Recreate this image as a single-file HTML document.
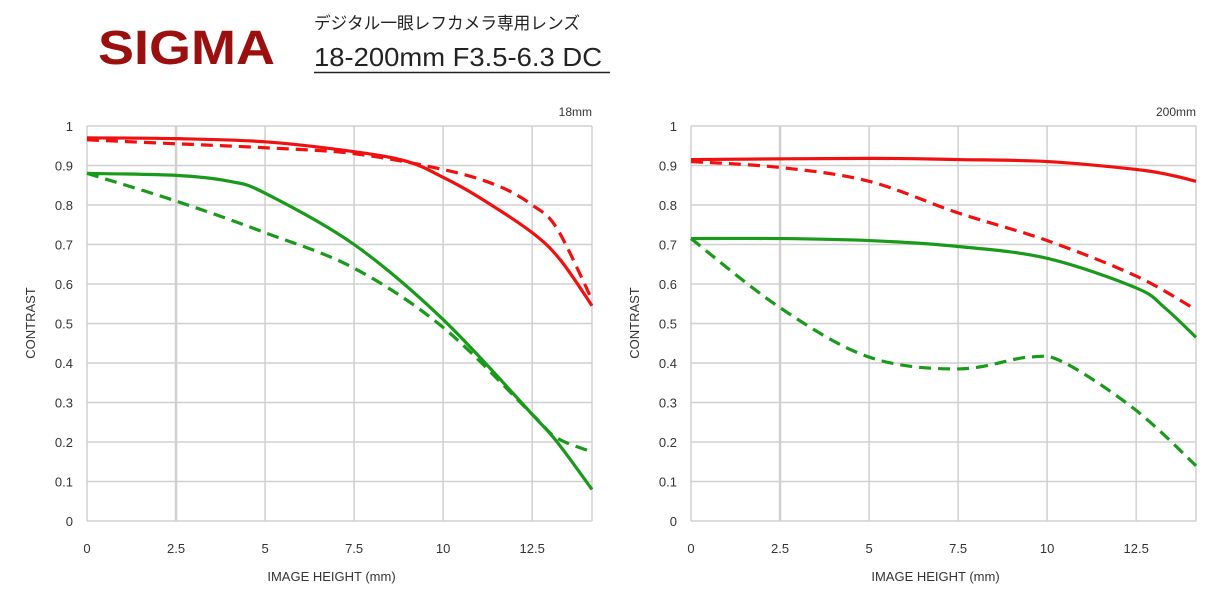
<!DOCTYPE html>
<html><head><meta charset="utf-8"><style>
body{margin:0;background:#fff;width:1228px;height:615px;overflow:hidden}
svg{display:block}
</style></head><body>
<svg id="s" width="1228" height="615" xmlns="http://www.w3.org/2000/svg" font-family="Liberation Sans, sans-serif">
<text x="98" y="64" font-size="48" font-weight="bold" fill="#9b0f0f" textLength="177" lengthAdjust="spacingAndGlyphs">SIGMA</text>
<text x="314" y="29" font-size="17" fill="#222" font-family="Liberation Sans, Noto Sans CJK JP, sans-serif" textLength="266" lengthAdjust="spacingAndGlyphs">デジタル一眼レフカメラ専用レンズ</text>
<text x="314" y="66" font-size="26" fill="#222" textLength="288" lengthAdjust="spacingAndGlyphs">18-200mm F3.5-6.3 DC</text>
<line x1="314" y1="72.5" x2="610" y2="72.5" stroke="#222" stroke-width="1.5"/>
<g id="g"></g>
</svg>
<script>
var g=document.getElementById('g'),h='';
function chart(x0,x1,title,series){
 var y0=126,yb=521,sx=(x1-x0)/14.18,sy=(yb-y0);
 var X=function(v){return x0+v*sx},Y=function(v){return yb-v*sy};
 for(var i=0;i<=10;i++){var y=Y(i/10);h+='<line x1="'+x0+'" y1="'+y+'" x2="'+x1+'" y2="'+y+'" stroke="#d0d0d0" stroke-width="1.5"/>';
  h+='<text x="'+(x0-14)+'" y="'+(y+5)+'" font-size="13" fill="#333" text-anchor="end">'+(i==10?'1':i==0?'0':(i/10).toString())+'</text>';}
 [0,2.5,5,7.5,10,12.5].forEach(function(v){var x=X(v);h+='<line x1="'+x+'" y1="'+y0+'" x2="'+x+'" y2="'+yb+'" stroke="#d0d0d0" stroke-width="'+(v==2.5?2.5:1.5)+'"/>';
  h+='<text x="'+x+'" y="'+(yb+32)+'" font-size="13" fill="#333" text-anchor="middle">'+v+'</text>';});
 h+='<line x1="'+x1+'" y1="'+y0+'" x2="'+x1+'" y2="'+yb+'" stroke="#d0d0d0" stroke-width="1.5"/>';
 h+='<text x="'+x1+'" y="116" font-size="12" fill="#333" text-anchor="end">'+title+'</text>';
 h+='<text transform="translate('+(x0-52)+',323) rotate(-90)" font-size="13" fill="#333" text-anchor="middle">CONTRAST</text>';
 h+='<text x="'+((x0+x1)/2-8)+'" y="581" font-size="13" fill="#333" text-anchor="middle">IMAGE HEIGHT (mm)</text>';
 series.forEach(function(s){var p=s[2].map(function(q){return [X(q[0]),Y(q[1])]});
  var d='M'+p[0];
  for(var i=0;i<p.length-1;i++){var a=p[i-1]||p[i],b=p[i],c=p[i+1],e=p[i+2]||c;
   d+=' C'+(b[0]+(c[0]-a[0])/6)+','+(b[1]+(c[1]-a[1])/6)+' '+(c[0]-(e[0]-b[0])/6)+','+(c[1]-(e[1]-b[1])/6)+' '+c;}
  h+='<path d="'+d+'" fill="none" stroke="'+s[0]+'" stroke-width="3.2" '+(s[1]?'stroke-dasharray="12,7"':'')+'/>';});
}
var R='#f01010',G='#1a9a1a';
chart(87,592,'18mm',[
[R,0,[[0,.97],[2.5,.968],[5,.96],[7.5,.935],[9,.91],[10,.87],[11,.82],[12.5,.73],[13.3,.66],[14.18,.545]]],
[R,1,[[0,.965],[2.5,.955],[5,.945],[7.5,.93],[10,.89],[11.5,.85],[12.5,.80],[13.2,.74],[14.18,.56]]],
[G,0,[[0,.88],[2.5,.875],[4,.86],[5,.83],[7.5,.70],[10,.51],[12.5,.27],[13.2,.20],[14.18,.08]]],
[G,1,[[0,.88],[2.5,.81],[5,.73],[7.5,.64],[10,.49],[12.5,.27],[13.2,.21],[14.18,.175]]]]);
chart(691,1196,'200mm',[
[R,0,[[0,.915],[5,.918],[7.5,.915],[10,.91],[12.5,.89],[13.5,.875],[14.18,.86]]],
[R,1,[[0,.91],[2.5,.895],[5,.86],[7.5,.78],[10,.71],[12.5,.62],[14.18,.535]]],
[G,0,[[0,.715],[2.5,.715],[5,.71],[7.5,.695],[10,.665],[12.5,.59],[13.3,.54],[14.18,.465]]],
[G,1,[[0,.715],[2.5,.54],[5,.415],[7.5,.385],[9.5,.415],[10.5,.40],[12.5,.28],[14.18,.14]]]]);
g.innerHTML=h;
</script>
</body></html>
